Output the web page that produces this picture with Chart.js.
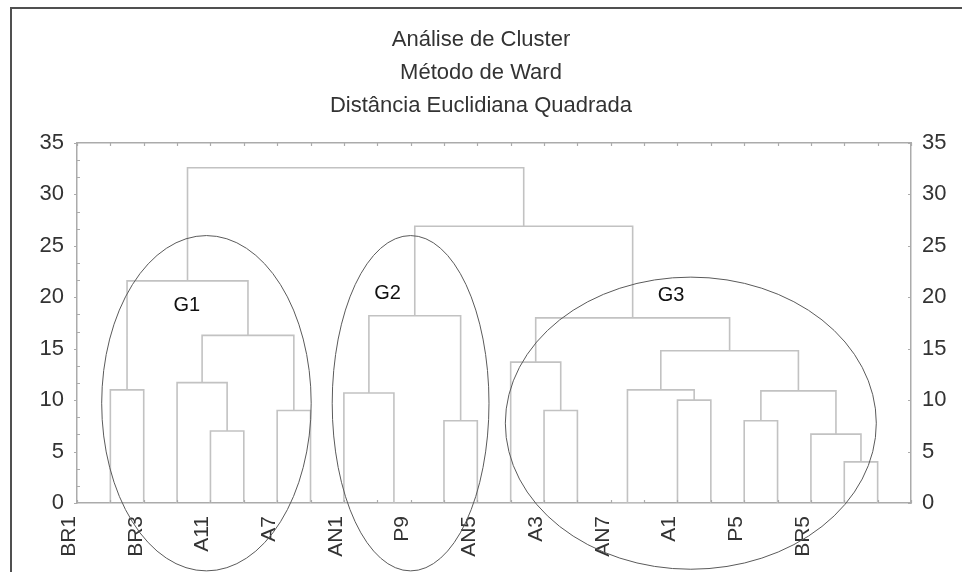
<!DOCTYPE html>
<html>
<head>
<meta charset="utf-8">
<script src="https://cdn.jsdelivr.net/npm/chart.js@4.4.1/dist/chart.umd.min.js"></script>
<style>
  html, body { margin: 0; padding: 0; background: #fff; }
  #wrap { width: 962px; height: 572px; }
</style>
</head>
<body>
<div id="wrap"><canvas id="c" width="962" height="572"></canvas></div>
<script>
// Object names, written under every second position (0, 2, 4, ...)
const leafLabels = ['BR1', 'BR3', 'A11', 'A7', 'AN1', 'P9', 'AN5', 'A3', 'AN7', 'A1', 'P5', 'BR5'];
const yTickValues = [0, 5, 10, 15, 20, 25, 30, 35];

// Ward linkage steps: the two children (leaf position "L#" or earlier step "M#")
// and the squared Euclidean distance at which they join
const mergeLeft   = ['L9', 'L16', 'L23', 'L22', 'L4', 'L11', 'L20', 'L6', 'L14', 'L18', 'L8', 'L1',
                     'M1', 'M6', 'L3', 'L13', 'M12', 'M14', 'M15', 'M10', 'M11', 'M19', 'M20'];
const mergeRight  = ['L10', 'L17', 'L24', 'M2', 'L5', 'L12', 'L21', 'L7', 'L15', 'L19', 'M0', 'L2',
                     'M9', 'M3', 'M4', 'M8', 'M13', 'M7', 'M16', 'M5', 'M17', 'M18', 'M21'];
const mergeHeight = [0, 0, 4.0, 6.7, 7.0, 8.0, 8.0, 9.0, 9.0, 10.0, 10.7, 11.0,
                     11.0, 10.9, 11.7, 13.7, 14.8, 16.3, 18.0, 18.2, 21.6, 26.9, 32.6];

// Group outlines (centre and half-extents in axis units) and their captions
const groupNames      = ['G1', 'G2', 'G3'];
const groupCenterX    = [3.88, 10.0, 18.4];
const groupCenterY    = [9.7, 9.7, 7.76];
const groupHalfWidth  = [3.14, 2.35, 5.56];
const groupHalfHeight = [16.3, 16.3, 14.2];
const groupLabelX     = [3.29, 9.31, 17.81];
const groupLabelY     = [19.2, 20.4, 20.2];

const FONT = '"Liberation Sans", Arial, Helvetica, sans-serif';
const LINK_COLOR = '#c2c2c2';
const AXIS_COLOR = '#ababab';

// Resolve each node to its horizontal position and height
const nodeCache = {};
function node(id) {
  if (nodeCache[id]) return nodeCache[id];
  let res;
  if (id[0] === 'L') {
    res = { x: Number(id.slice(1)), h: 0 };
  } else {
    const i = Number(id.slice(1));
    const a = node(mergeLeft[i]);
    const b = node(mergeRight[i]);
    res = { x: (a.x + b.x) / 2, h: mergeHeight[i] };
  }
  nodeCache[id] = res;
  return res;
}

// One bracket-shaped line per linkage step
const datasets = mergeHeight.map((h, i) => {
  const a = node(mergeLeft[i]);
  const b = node(mergeRight[i]);
  return {
    data: [{ x: a.x, y: a.h }, { x: a.x, y: h }, { x: b.x, y: h }, { x: b.x, y: b.h }],
    borderColor: LINK_COLOR,
    borderWidth: 1.6,
    pointRadius: 0,
    fill: false,
    tension: 0
  };
});

// Outer frame, axis tick marks, group outlines and captions
const decor = {
  id: 'decor',
  beforeDraw(chart) {
    const ctx = chart.ctx;
    ctx.save();
    ctx.strokeStyle = '#505050';
    ctx.lineWidth = 2;
    ctx.beginPath();
    ctx.moveTo(11, chart.height);
    ctx.lineTo(11, 8);
    ctx.lineTo(chart.width, 8);
    ctx.stroke();
    ctx.restore();
  },
  afterDraw(chart) {
    const ctx = chart.ctx;
    const area = chart.chartArea;
    const xs = chart.scales.x;
    const ys = chart.scales.y;
    ctx.save();
    ctx.strokeStyle = AXIS_COLOR;
    ctx.lineWidth = 1.2;
    ctx.beginPath();
    xs.ticks.forEach(t => {
      const px = Math.round(xs.getPixelForValue(t.value)) + 0.5;
      ctx.moveTo(px, area.top);
      ctx.lineTo(px, area.top + 3);
      ctx.moveTo(px, area.bottom);
      ctx.lineTo(px, area.bottom - 3);
    });
    for (let i = 0; i <= 21; i++) {
      const py = Math.round(ys.getPixelForValue(i * 5 / 3)) + 0.5;
      if (i % 3 === 0) {
        ctx.moveTo(area.left, py);
        ctx.lineTo(area.left - 3, py);
        ctx.moveTo(area.right, py);
        ctx.lineTo(area.right - 3, py);
      } else {
        ctx.moveTo(area.left, py);
        ctx.lineTo(area.left + 3, py);
      }
    }
    ctx.stroke();

    ctx.strokeStyle = '#5a5a5a';
    ctx.lineWidth = 1;
    groupNames.forEach((name, i) => {
      const cx = xs.getPixelForValue(groupCenterX[i]);
      const cy = ys.getPixelForValue(groupCenterY[i]);
      const rx = Math.abs(xs.getPixelForValue(groupCenterX[i] + groupHalfWidth[i]) - cx);
      const ry = Math.abs(ys.getPixelForValue(groupCenterY[i] + groupHalfHeight[i]) - cy);
      ctx.beginPath();
      ctx.ellipse(cx, cy, rx, ry, 0, 0, Math.PI * 2);
      ctx.stroke();
    });

    ctx.fillStyle = '#111';
    ctx.font = '20px ' + FONT;
    ctx.textAlign = 'center';
    ctx.textBaseline = 'middle';
    groupNames.forEach((name, i) => {
      ctx.fillText(name, xs.getPixelForValue(groupLabelX[i]), ys.getPixelForValue(groupLabelY[i]));
    });
    ctx.restore();
  }
};

Chart.defaults.font.family = FONT;
Chart.defaults.color = '#333';

const yTickOptions = {
  min: 0,
  max: 35,
  afterBuildTicks: s => { s.ticks = yTickValues.map(v => ({ value: v })); }
};

new Chart(document.getElementById('c'), {
  type: 'line',
  data: { datasets },
  plugins: [decor],
  options: {
    responsive: false,
    animation: false,
    devicePixelRatio: 1,
    layout: { padding: 0 },
    plugins: {
      legend: { display: false },
      tooltip: { enabled: false },
      title: {
        display: true,
        text: ['Análise de Cluster', 'Método de Ward', 'Distância Euclidiana Quadrada'],
        color: '#333',
        font: { size: 22, weight: 'normal', lineHeight: '33px' },
        padding: { top: 23, bottom: 21 }
      }
    },
    scales: {
      x: {
        type: 'linear',
        position: 'bottom',
        min: 0,
        max: 25,
        ticks: {
          stepSize: 1,
          autoSkip: false,
          minRotation: 90,
          maxRotation: 90,
          padding: 13,
          labelOffset: -8,
          color: '#333',
          font: { size: 21 },
          callback: v => (v % 2 === 0 && v / 2 < leafLabels.length) ? leafLabels[v / 2] : ''
        },
        grid: { display: false, drawTicks: false },
        border: { display: true, color: AXIS_COLOR, width: 1.5 },
        afterFit: s => { s.height = 69; }
      },
      xTop: {
        type: 'linear',
        position: 'top',
        min: 0,
        max: 25,
        ticks: { display: false },
        grid: { display: false, drawTicks: false },
        border: { display: true, color: AXIS_COLOR, width: 1.5 },
        afterFit: s => { s.height = 0; }
      },
      y: {
        type: 'linear',
        position: 'left',
        ...yTickOptions,
        ticks: { padding: 13, color: '#333', font: { size: 22 } },
        grid: { display: false, drawTicks: false },
        border: { display: true, color: AXIS_COLOR, width: 1.5 },
        afterFit: s => { s.width = 77; }
      },
      yRight: {
        type: 'linear',
        position: 'right',
        ...yTickOptions,
        ticks: { padding: 11, color: '#333', font: { size: 22 } },
        grid: { display: false, drawTicks: false },
        border: { display: true, color: AXIS_COLOR, width: 1.5 },
        afterFit: s => { s.width = 51; }
      }
    }
  }
});
</script>
</body>
</html>
